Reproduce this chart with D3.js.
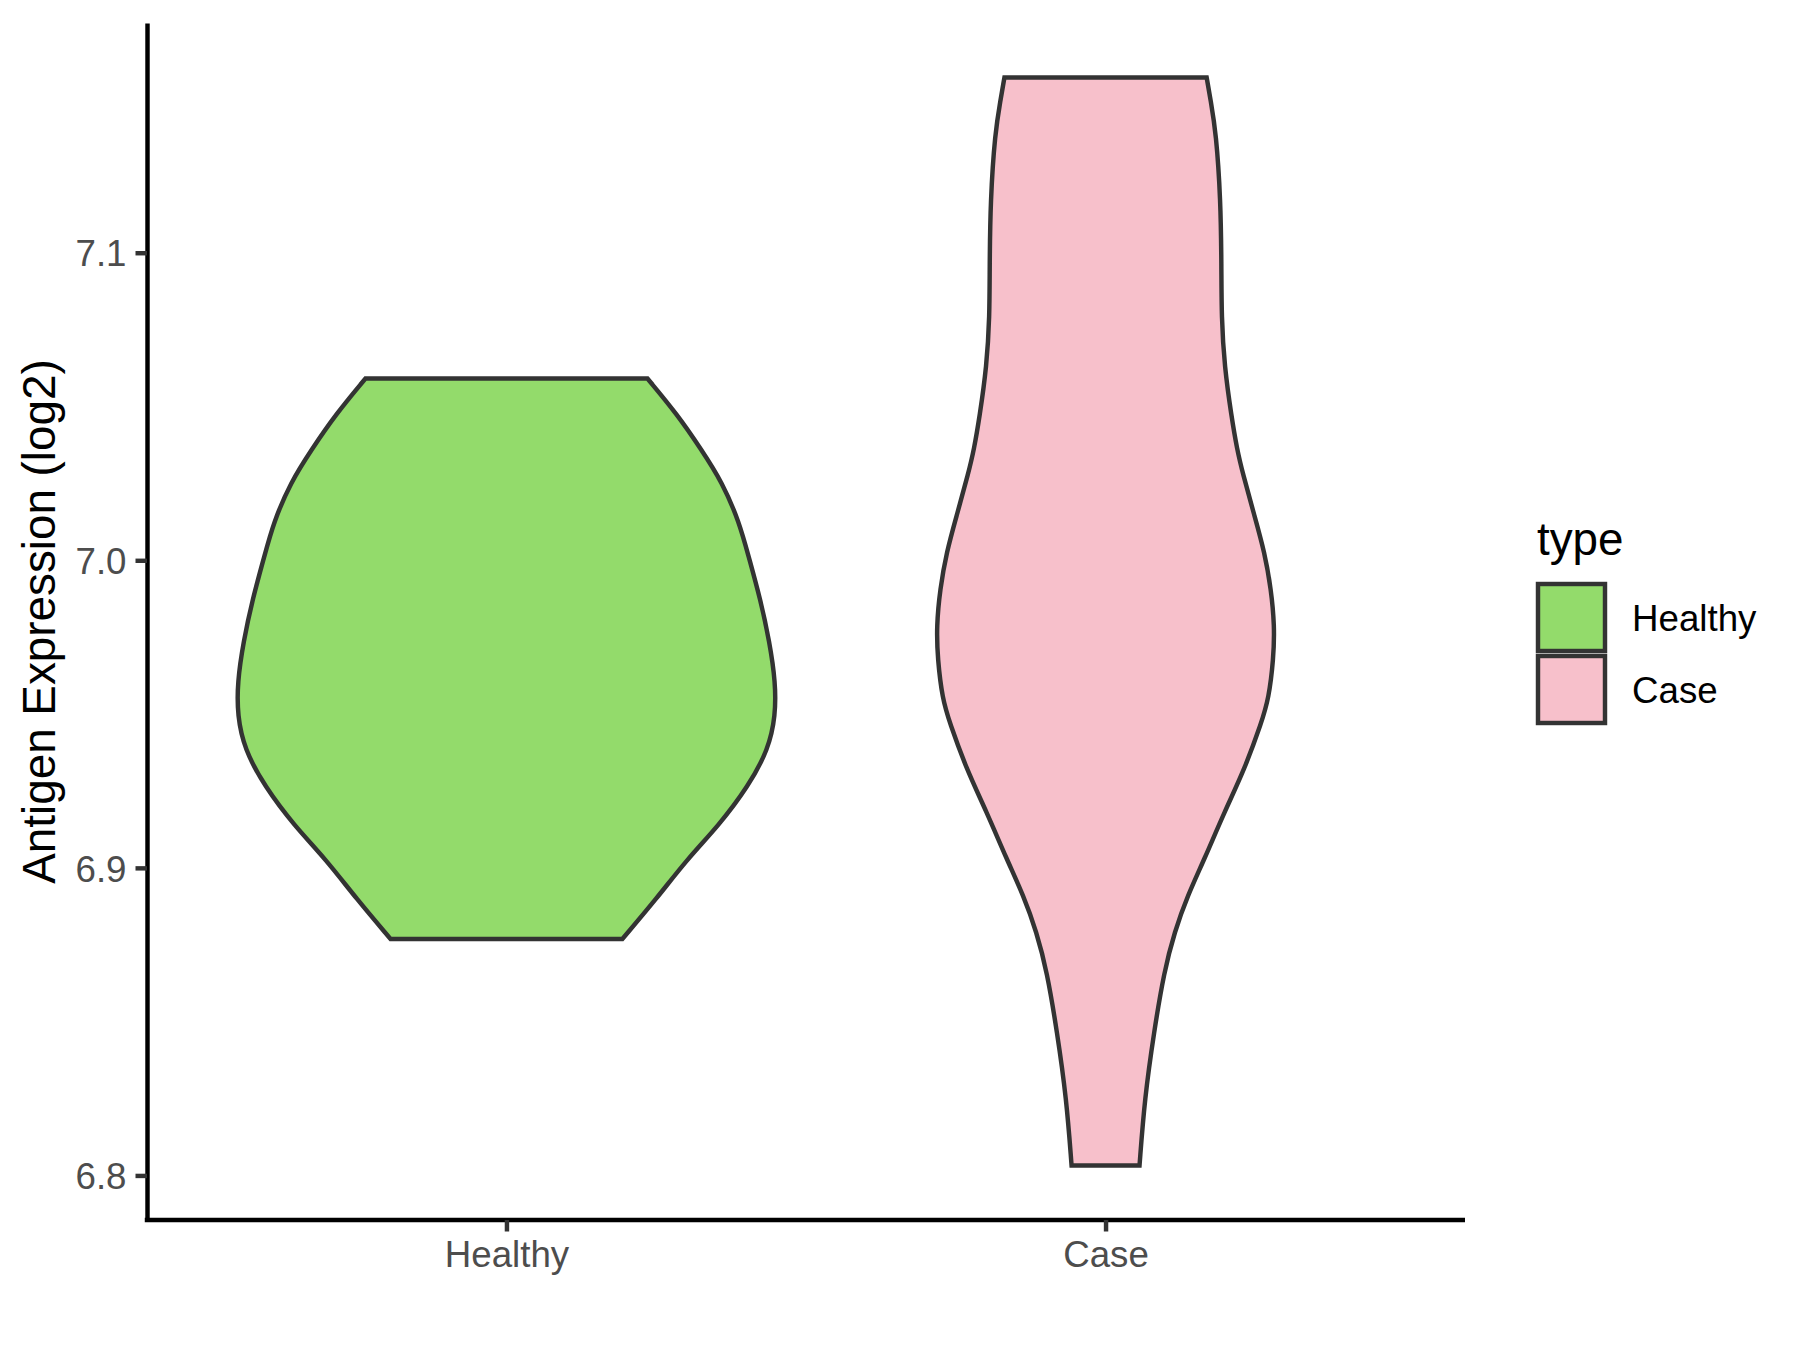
<!DOCTYPE html>
<html>
<head>
<meta charset="utf-8">
<script src="https://cdn.jsdelivr.net/npm/d3@7"></script>
<style>
  html, body { margin: 0; padding: 0; background: #fff; }
  svg { display: block; font-family: "Liberation Sans", Arial, Helvetica, sans-serif; }
</style>
</head>
<body>
<svg id="chart" width="1800" height="1350"></svg>
<script>
// ---------- data ----------
const categories = ["Healthy", "Case"];
const colors = ["#93DB6B", "#F7C0CB"];
const yTicks = [6.8, 6.9, 7.0, 7.1];
const yTitle = "Antigen Expression (log2)";
const legendTitle = "type";

// violin profiles: expression value and scaled density (1 = widest violin)
const healthyValues  = [7.0591, 7.0474, 7.0360, 7.0253, 7.0123, 7.0013, 6.9873, 6.9734, 6.9604, 6.9494, 6.9386, 6.9266, 6.9136, 6.9029, 6.8899, 6.8769];
const healthyDensity = [0.523, 0.634, 0.723, 0.801, 0.864, 0.898, 0.942, 0.976, 0.998, 0.998, 0.972, 0.898, 0.786, 0.671, 0.556, 0.430];

const caseValues  = [7.1570, 7.1495, 7.1390, 7.1172, 7.0955, 7.0792, 7.0630, 7.0468, 7.0360, 7.0286, 7.0143, 7.0026, 6.9906, 6.9786, 6.9679, 6.9549, 6.9474, 6.9321, 6.9182, 6.9029, 6.8909, 6.8792, 6.8662, 6.8468, 6.8250, 6.8032];
const caseDensity = [0.375, 0.390, 0.410, 0.427, 0.430, 0.430, 0.441, 0.467, 0.488, 0.508, 0.553, 0.590, 0.614, 0.627, 0.623, 0.605, 0.579, 0.516, 0.441, 0.367, 0.304, 0.256, 0.217, 0.180, 0.145, 0.126];

const violins = [
  { cat: "Healthy", values: healthyValues, density: healthyDensity },
  { cat: "Case", values: caseValues, density: caseDensity }
];

// ---------- layout ----------
const panel = { left: 147, right: 1465, top: 23, bottom: 1220 };
const LW = 4.45;
const tickLen = 11.5;
const fsTick = 36.7, fsTitle = 45.8;

const svg = d3.select("#chart");

const x = d3.scalePoint().domain(categories).range([panel.left, panel.right]).padding(0.6);
const allVals = healthyValues.concat(caseValues);
const ext = d3.extent(allVals);
const pad = (ext[1] - ext[0]) * 0.05;
const y = d3.scaleLinear().domain([ext[0] - pad, ext[1] + pad]).range([panel.bottom, panel.top]);
const w = d3.scaleLinear().domain([0, 1]).range([0, 0.45 * x.step()]);
const color = d3.scaleOrdinal().domain(categories).range(colors);

// ---------- violins ----------
violins.forEach(v => {
  const pts = v.values.map((val, i) => ({ val, d: v.density[i] }));
  const cx = x(v.cat);
  const area = d3.area()
    .y(p => y(p.val))
    .x0(p => cx - w(p.d))
    .x1(p => cx + w(p.d))
    .curve(d3.curveBasis);
  svg.append("path")
    .attr("d", area(pts))
    .attr("fill", color(v.cat))
    .attr("stroke", "#333333")
    .attr("stroke-width", LW)
    .attr("stroke-linejoin", "miter");
});

// ---------- axes ----------
const yAxis = svg.append("g")
  .attr("transform", `translate(${panel.left},0)`)
  .call(d3.axisLeft(y).tickValues(yTicks).tickFormat(d3.format(".1f")).tickSizeOuter(0).tickSizeInner(tickLen).tickPadding(9));
yAxis.select(".domain").attr("stroke", "#000").attr("stroke-width", LW).attr("stroke-linecap", "butt");
yAxis.selectAll(".tick line").attr("stroke", "#333333").attr("stroke-width", LW);
yAxis.selectAll(".tick text").attr("fill", "#4D4D4D").attr("font-size", fsTick)
  .attr("font-family", "'Liberation Sans', Arial, sans-serif").attr("dy", "0.36em");

const xAxis = svg.append("g")
  .attr("transform", `translate(0,${panel.bottom})`)
  .call(d3.axisBottom(x).tickSizeOuter(0).tickSizeInner(tickLen).tickPadding(9));
xAxis.select(".domain").attr("stroke", "#000").attr("stroke-width", LW).attr("stroke-linecap", "butt")
  .attr("d", `M${panel.left - LW / 2},0H${panel.right}`);
xAxis.selectAll(".tick line").attr("stroke", "#333333").attr("stroke-width", LW);
xAxis.selectAll(".tick text").attr("fill", "#4D4D4D").attr("font-size", fsTick)
  .attr("font-family", "'Liberation Sans', Arial, sans-serif").attr("dy", "0.72em");

// y title
svg.append("text")
  .attr("transform", `translate(55,${(panel.top + panel.bottom) / 2}) rotate(-90)`)
  .attr("text-anchor", "middle")
  .attr("font-size", fsTitle)
  .attr("fill", "#000")
  .text(yTitle);

// ---------- legend ----------
const lg = svg.append("g");
lg.append("text").attr("x", 1537).attr("y", 555).attr("font-size", fsTitle).attr("fill", "#000").text(legendTitle);
const keySize = 67, keyTop = 584, keyStep = 72;
categories.forEach((c, i) => {
  lg.append("rect")
    .attr("x", 1538).attr("y", keyTop + i * keyStep)
    .attr("width", keySize).attr("height", keySize)
    .attr("fill", color(c)).attr("stroke", "#333333").attr("stroke-width", LW);
  lg.append("text")
    .attr("x", 1632).attr("y", keyTop + i * keyStep + keySize / 2)
    .attr("dy", "0.36em")
    .attr("font-size", fsTick).attr("fill", "#000").text(c);
});
</script>
</body>
</html>
